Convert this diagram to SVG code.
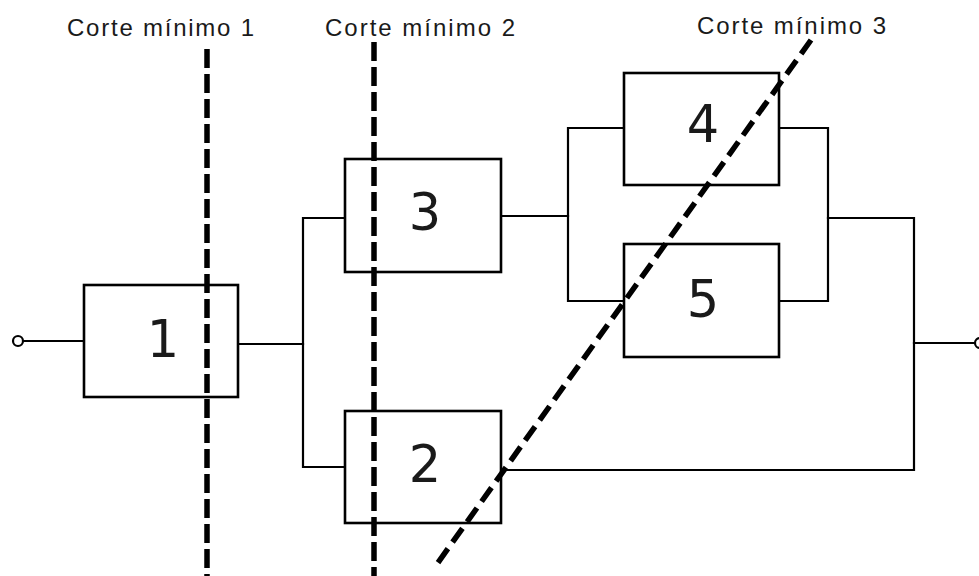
<svg xmlns="http://www.w3.org/2000/svg" width="979" height="576" viewBox="0 0 979 576">
  <style>
    .box { fill: #ffffff; stroke: #000000; stroke-width: 2.6; }
    .wire { fill: none; stroke: #000000; stroke-width: 2.2; stroke-linejoin: miter; stroke-linecap: square; }
    .term { fill: #ffffff; stroke: #000000; stroke-width: 2.2; }
    .num { font-family: "DejaVu Sans", "Liberation Sans", sans-serif; font-size: 51px; fill: #1a1a1a; text-anchor: middle; }
    .cut { fill: none; stroke: #000000; stroke-width: 5.5; stroke-dasharray: 19 6; }
    .cutlabel { font-family: "Liberation Sans", Arial, sans-serif; font-size: 24px; fill: #1a1a1a; }
  </style>

  <rect width="979" height="576" fill="#ffffff"/>

  <!-- wiring between blocks -->
  <g id="connectors">
    <line class="wire" x1="23" y1="341" x2="84" y2="341"/>
    <line class="wire" x1="238" y1="344" x2="303" y2="344"/>
    <polyline class="wire" points="345,218 303,218 303,467 345,467"/>
    <line class="wire" x1="501" y1="216" x2="568" y2="216"/>
    <polyline class="wire" points="624,128 568,128 568,301 624,301"/>
    <polyline class="wire" points="779,128 828,128 828,301 779,301"/>
    <polyline class="wire" points="828,218 914,218 914,470 501,470"/>
    <line class="wire" x1="914" y1="343" x2="974" y2="343"/>
  </g>

  <!-- input / output terminals -->
  <g id="terminal-in"><circle class="term" cx="18" cy="341" r="5"/></g>
  <g id="terminal-out"><circle class="term" cx="980" cy="343" r="5"/></g>

  <!-- blocks -->
  <g id="block-1">
    <rect class="box" x="84" y="285" width="154" height="112"/>
    <text class="num" x="163" y="357">1</text>
  </g>
  <g id="block-3">
    <rect class="box" x="345" y="159" width="156" height="113"/>
    <text class="num" x="425" y="230">3</text>
  </g>
  <g id="block-2">
    <rect class="box" x="345" y="411" width="156" height="112"/>
    <text class="num" x="425" y="482">2</text>
  </g>
  <g id="block-4">
    <rect class="box" x="624" y="73" width="155" height="112"/>
    <text class="num" x="703" y="142">4</text>
  </g>
  <g id="block-5">
    <rect class="box" x="624" y="244" width="155" height="113"/>
    <text class="num" x="703" y="317">5</text>
  </g>

  <!-- minimal cut lines -->
  <g id="cut-1">
    <line class="cut" x1="207" y1="49" x2="207" y2="576"/>
    <text class="cutlabel" x="67" y="36" textLength="187">Corte mínimo 1</text>
  </g>
  <g id="cut-2">
    <line class="cut" x1="374" y1="42" x2="374" y2="576"/>
    <text class="cutlabel" x="325" y="36" textLength="190">Corte mínimo 2</text>
  </g>
  <g id="cut-3">
    <line class="cut" x1="811" y1="40" x2="437" y2="564" style="stroke-dasharray: 17 8;"/>
    <text class="cutlabel" x="697" y="34" textLength="189">Corte mínimo 3</text>
  </g>
</svg>
